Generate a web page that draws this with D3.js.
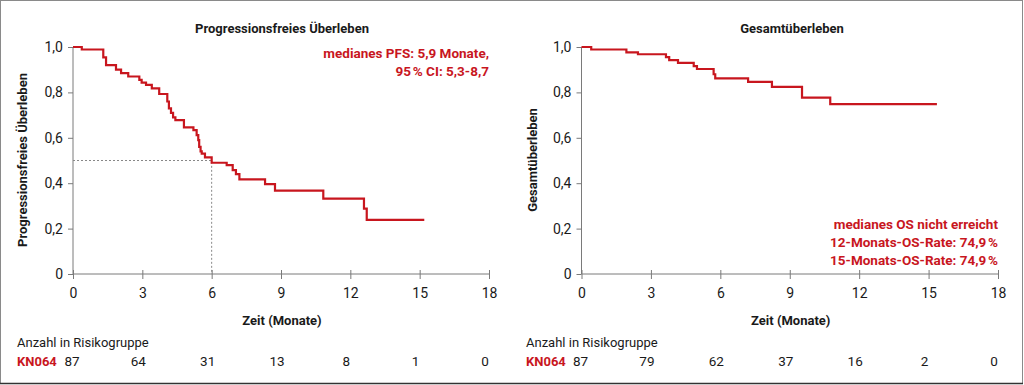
<!DOCTYPE html>
<html lang="de">
<head>
<meta charset="utf-8">
<title>KN064 Überleben</title>
<script src="https://cdn.jsdelivr.net/npm/d3@7"></script>
<style>
  body { margin: 0; background: #fff; }
  svg text { font-family: "Roboto", sans-serif; fill: #1a1a1a; }
  .title, .axtitle { font-weight: bold; font-size: 13px; }
  .red { fill: #c8161e !important; font-weight: bold; font-size: 13.5px; }
  .axis path, .axis line { stroke: #7a7a7a; }
</style>
</head>
<body>
<script>
// x ticks (Monate) and risk table
var monthTicks = [0, 3, 6, 9, 12, 15, 18];
var yTicks = [0, 0.2, 0.4, 0.6, 0.8, 1.0];

// PFS: step times (Monate) and survival after step
var pfsTime = [0, 0.38, 1.31, 1.43, 1.86, 2.08, 2.39, 2.87, 2.97, 3.16, 3.41, 3.73, 4.08, 4.15, 4.24, 4.33, 4.43,
               4.80, 5.21, 5.35, 5.42, 5.46, 5.52, 5.57, 5.71, 6.00, 6.65, 6.91, 7.05, 7.20, 8.31, 8.74, 10.83, 12.59, 12.71];
var pfsSurv = [1.0, 0.989, 0.954, 0.92, 0.90, 0.885, 0.87, 0.855, 0.843, 0.833, 0.818, 0.793, 0.76, 0.73, 0.71, 0.69, 0.678,
               0.646, 0.634, 0.612, 0.59, 0.56, 0.54, 0.53, 0.514, 0.49, 0.48, 0.458, 0.44, 0.417, 0.396, 0.367, 0.332, 0.288, 0.238];
var pfsEnd = 15.2;
var pfsMedian = 6.0;

// OS
var osTime = [0, 0.42, 1.94, 2.44, 3.65, 3.79, 4.17, 4.85, 4.99, 5.71, 5.78, 7.20, 8.23, 9.53, 10.75];
var osSurv = [1.0, 0.989, 0.976, 0.968, 0.955, 0.942, 0.93, 0.916, 0.903, 0.88, 0.862, 0.846, 0.824, 0.777, 0.748];
var osEnd = 15.36;

var pfsRisk = [87, 64, 31, 13, 8, 1, 0];
var osRisk = [87, 79, 62, 37, 16, 2, 0];

var W = 1024, H = 385;
var red = "#c8161e";

var svg = d3.select("body").append("svg")
  .attr("width", W).attr("height", H);

// outer frame
svg.append("rect")
  .attr("x", 0.5).attr("y", 0.5).attr("width", 1022).attr("height", 383)
  .attr("fill", "none").attr("stroke", "#8a8a8a").attr("stroke-width", 1);
svg.append("line")
  .attr("x1", 0).attr("x2", 1023).attr("y1", 383.5).attr("y2", 383.5)
  .attr("stroke", "#333").attr("stroke-width", 1.5);

function panel(opt) {
  var x = d3.scaleLinear().domain([0, 18]).range([opt.x0, opt.x1]);
  var y = d3.scaleLinear().domain([0, 1]).range([274, 47]);
  var g = svg.append("g");

  g.append("text").attr("class", "title")
    .attr("x", opt.titleX).attr("y", 33).attr("text-anchor", "middle")
    .text(opt.title);

  // axes
  var xa = g.append("g").attr("class", "axis")
    .attr("transform", "translate(0,274)")
    .call(d3.axisBottom(x).tickValues(monthTicks).tickSize(5).tickSizeOuter(0).tickPadding(9));
  xa.selectAll(".tick line").attr("y1", -4);
  xa.selectAll(".tick text").style("font-size", "14px").attr("fill", "#1a1a1a");

  var ya = g.append("g").attr("class", "axis")
    .attr("transform", "translate(" + opt.x0 + ",0)")
    .call(d3.axisLeft(y).tickValues(yTicks).tickSize(5).tickSizeOuter(0).tickPadding(5)
      .tickFormat(function(d) { return d === 0 ? "0" : d3.format(".1f")(d).replace(".", ","); }));
  ya.selectAll(".tick text").style("font-size", "14px").attr("fill", "#1a1a1a");
  ya.select(".domain").attr("d", "M0,274V47");
  xa.select(".domain").attr("d", "M" + opt.x0 + ",0H" + opt.x1);

  g.append("text").attr("class", "axtitle")
    .attr("transform", "translate(" + opt.yTitleX + ",160) rotate(-90)")
    .attr("text-anchor", "middle").text(opt.yTitle);

  g.append("text").attr("class", "axtitle")
    .attr("x", (opt.x0 + opt.x1) / 2 + 1).attr("y", 325).attr("text-anchor", "middle")
    .text("Zeit (Monate)");

  // median reference lines
  if (opt.median != null) {
    g.append("path")
      .attr("d", "M" + x(0) + "," + y(0.5) + "H" + x(opt.median) + "V" + y(0))
      .attr("fill", "none").attr("stroke", "#888").attr("stroke-width", 1)
      .attr("stroke-dasharray", "2,2");
  }

  // KM curve
  var pts = opt.time.map(function(t, i) { return [t, opt.surv[i]]; });
  pts.push([opt.end, opt.surv[opt.surv.length - 1]]);
  var line = d3.line().x(function(d) { return x(d[0]); }).y(function(d) { return y(d[1]); })
    .curve(d3.curveStepAfter);
  g.append("path").datum(pts)
    .attr("d", line).attr("fill", "none").attr("stroke", red).attr("stroke-width", 2.2);

  // annotation
  opt.note.forEach(function(s, i) {
    g.append("text").attr("class", "red")
      .attr("x", opt.x1).attr("y", opt.noteY + i * 18).attr("text-anchor", "end").text(s);
  });

  // risk table
  g.append("text").attr("x", opt.tableX).attr("y", 347).style("font-size", "13px")
    .text("Anzahl in Risikogruppe");
  g.append("text").attr("class", "red").attr("x", opt.tableX).attr("y", 366)
    .style("font-size", "13px").text("KN064");
  g.selectAll(".risk").data(opt.risk).enter().append("text")
    .attr("class", "risk")
    .attr("x", function(d, i) { return x(monthTicks[i]) - (i === 0 ? 1 : 4); })
    .attr("y", 366).attr("text-anchor", "middle").style("font-size", "13.5px")
    .text(function(d) { return d; });
}

panel({
  x0: 73, x1: 489, titleX: 282, title: "Progressionsfreies Überleben",
  yTitle: "Progressionsfreies Überleben", yTitleX: 27,
  time: pfsTime, surv: pfsSurv, end: pfsEnd, median: pfsMedian,
  note: ["medianes PFS: 5,9 Monate,", "95\u202F% CI: 5,3-8,7"], noteY: 58,
  risk: pfsRisk, tableX: 17
});

panel({
  x0: 581.5, x1: 998, titleX: 792, title: "Gesamtüberleben",
  yTitle: "Gesamtüberleben", yTitleX: 537,
  time: osTime, surv: osSurv, end: osEnd, median: null,
  note: ["medianes OS nicht erreicht", "12-Monats-OS-Rate: 74,9\u202F%", "15-Monats-OS-Rate: 74,9\u202F%"], noteY: 229,
  risk: osRisk, tableX: 526
});
</script>
</body>
</html>
